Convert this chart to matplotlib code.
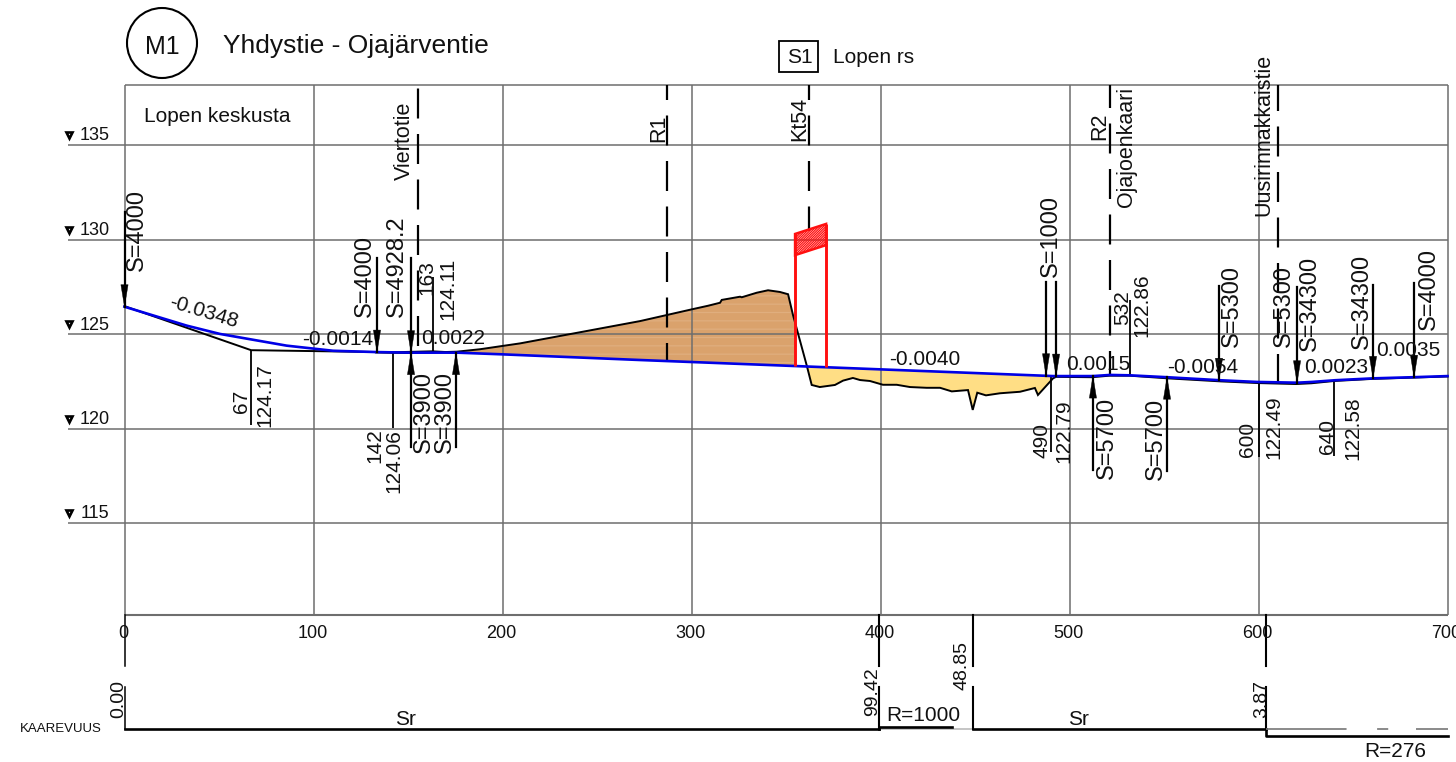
import numpy as np
import matplotlib
matplotlib.use('Agg')
import matplotlib.pyplot as plt
from matplotlib.patches import Ellipse, Polygon, Rectangle
from matplotlib.transforms import Affine2D

plt.rcParams['font.family'] = ['Liberation Sans', 'DejaVu Sans']
plt.rcParams['lines.scale_dashes'] = False
plt.rcParams['hatch.linewidth'] = 0.9

# Road profile, station (m) and elevation (m)
blue_x = [0, 32.9, 50.5, 66.4, 85.8, 110.3, 133.4, 151, 175.8, 200, 272.8, 491.3, 512.4, 521.4, 532,
          551.6, 579.6, 599.2, 620.4, 628.3, 640.5, 660.6, 681.7, 700]
blue_y = [126.47, 125.47, 125.03, 124.75, 124.41, 124.14, 124.07, 124.04, 124.04, 123.95, 123.65, 122.80,
          122.80, 122.86, 122.84, 122.74, 122.58, 122.49, 122.45, 122.49, 122.58, 122.68, 122.74, 122.80]

# Straight grade lines through the break points
tangent_x = [0, 67, 142, 163, 176]
tangent_y = [126.5, 124.17, 124.06, 124.11, 124.04]

# Existing ground
ground_x = [133, 151, 175.8, 188.1, 209.3, 272.8, 286.9, 300.1, 308.7, 315.1, 316, 325.7, 326.6, 334.5,
            340.5, 346.8, 351.1, 353.7, 354.8, 361, 363.6, 367.9, 375.9, 380.2, 385.4, 389.2, 394.4, 401.3,
            408.6, 415.6, 424.4, 431.5, 437.7, 446.3, 448.8, 451.2, 455.8, 463.2, 473.8, 481.7, 483.3,
            491.3, 492.9, 512, 521, 532, 552, 580, 600, 620, 628, 640, 660, 682, 700]
ground_y = [124.05, 124.02, 124.09, 124.22, 124.53, 125.71, 126.03, 126.33, 126.52, 126.68, 126.83, 127.00,
            126.97, 127.21, 127.34, 127.25, 127.13, 126.03, 125.63, 123.35, 122.33, 122.22, 122.33, 122.56,
            122.70, 122.59, 122.54, 122.34, 122.34, 122.22, 122.18, 122.18, 121.99, 122.06, 121.01, 121.92,
            121.78, 121.89, 121.97, 122.17, 121.80, 122.68, 122.76, 122.74, 122.82, 122.82, 122.68, 122.52,
            122.43, 122.38, 122.42, 122.54, 122.65, 122.72, 122.78]

# Bridge deck
deck_x = [354.8, 371.2]
deck_top = [130.32, 130.85]
deck_bottom = [129.2, 129.73]
deck_foot = [123.33, 123.26]

# Crossing roads: station, lower end of the dashed line
cross_x = [155.3, 287, 362.2, 521.4, 610.3]
cross_end = [124.05, 123.56, 130.5, 122.86, 122.47]

# Vertical curve arrows: station, tail elevation, tip elevation
down_x = [0, 133.6, 151.6, 487.6, 492.9, 579.1, 620.4, 660.6, 682.3]
down_tail = [131.48, 129.05, 129.05, 127.78, 127.78, 127.57, 127.51, 127.62, 127.72]
down_tip = [126.47, 124.07, 124.04, 122.82, 122.80, 122.58, 122.45, 122.68, 122.74]
up_x = [151.6, 175.4, 512.4, 551.6]
up_tail = [119.05, 119.05, 117.83, 117.78]
up_tip = [124.04, 124.04, 122.80, 122.74]

# Break points and how far their leader runs
point_x = [67, 142, 163, 490, 532, 600, 640]
point_y = [124.17, 124.06, 124.11, 122.79, 122.86, 122.49, 122.58]
point_end = [120.21, 120.05, 128.04, 118.78, 126.83, 118.52, 118.57]

x_ticks = [0, 100, 200, 300, 400, 500, 600, 700]
y_ticks = [135, 130, 125, 120, 115]

# Curvature band
curve_breaks = [0, 399.42, 448.85, 603.87]
curve_labels = ['0.00', '99.42', '48.85', '3.87']

WIDTH, HEIGHT = 1456, 762
PX_X, PX_Y = 1.89, 18.9  # pixels per metre
X0, Y135 = 124.5, 145.5
GRID = '#6e6e6e'

fig = plt.figure(figsize=(WIDTH / 100, HEIGHT / 100), dpi=100)
ax = fig.add_axes([0, 0, 1, 1])
ax.set_xlim(-X0 / PX_X, (WIDTH - X0) / PX_X)
ax.set_ylim(135 - (HEIGHT - Y135) / PX_Y, 135 + Y135 / PX_Y)
ax.axis('off')

# annotations are placed in picture pixels, y down
px = Affine2D().scale(1, -1).translate(0, HEIGHT)


def label(x, y, s, size=15, rot=90, **kw):
    kw.setdefault('ha', 'center')
    # matplotlib centres on the text box with its descent, nudge to the ink
    if rot == 90:
        x += 2
    elif rot == 0:
        y += 1.5
    ax.text(x, y, s, fontsize=size, rotation=rot, va='center', transform=px, color='#111111', zorder=8, **kw)


top, bottom = 138.2, 110.16

# cut and fill areas
gx = np.array(ground_x)
gy = np.array(ground_y)
by = np.interp(gx, blue_x, blue_y)
ax.fill_between(gx, gy, by, where=(gx >= 175.8) & (gx <= 354.8), facecolor='#DAA26C', edgecolor='#E0AE7E',
                hatch='--', linewidth=0, zorder=1)
ax.fill_between(gx, gy, by, where=(gx >= 361) & (gx <= 491.3), facecolor='#FFDE85', linewidth=0, zorder=1)

# grid
ax.vlines(x_ticks, bottom, top, color=GRID, lw=1.1, zorder=2)
ax.hlines(y_ticks, -30, 700, color=GRID, lw=1.1, zorder=2)
ax.hlines([top], 0, 700, color=GRID, lw=1.1, zorder=2)
ax.hlines([bottom], 0, 700, color=GRID, lw=1.5, zorder=2)

for t in y_ticks:
    ax.plot(-29.5, t + 0.55, marker='v', ms=5, mfc='white', mec='black', mew=1.9, zorder=5)
    label(94.5, Y135 + (135 - t) * PX_Y - 11, str(t), size=13, rot=0)
for t in x_ticks:
    label(X0 + t * PX_X - 1, 632, str(t), size=13, rot=0)

# crossing roads, dashes measured from the top of the frame
on, off = 30 * 0.72, 15.5 * 0.72
for x, end, skip in zip(cross_x, cross_end, [42, 15, 15, 7, 4]):
    ax.plot([x, x], [top, end], color='black', lw=1.6, ls=(skip * 0.72, (on, off)), zorder=4)

# profile lines
ax.plot(ground_x, ground_y, color='black', lw=1.4, zorder=5, solid_joinstyle='miter')
ax.plot(tangent_x, tangent_y, color='black', lw=1.4, zorder=5)
ax.plot(blue_x, blue_y, color='#0000e6', lw=1.9, zorder=6)

# bridge
ax.add_patch(Polygon(list(zip(deck_x, deck_top)) + list(zip(deck_x[::-1], deck_bottom[::-1])), closed=True,
                     fill=False, edgecolor='#ff1010', hatch='/' * 14, lw=1.8, zorder=5))
ax.vlines(deck_x, deck_foot, deck_top, color='#ff1010', lw=2.1, zorder=6)

# arrows
head_len, head_w = 22 / PX_Y, 3.6 / PX_X
for x, tail, tip in zip(down_x + up_x, down_tail + up_tail, down_tip + up_tip):
    sign = 1 if tail > tip else -1
    ax.plot([x, x], [tail, tip], color='black', lw=1.6, zorder=7)
    ax.add_patch(Polygon([(x, tip), (x - head_w, tip + sign * head_len), (x + head_w, tip + sign * head_len)],
                         closed=True, facecolor='black', edgecolor='black', lw=0.3, zorder=7))

# leaders at the break points
ax.vlines(point_x, point_y, point_end, color='black', lw=1.3, zorder=5)

# arrow labels
for x, y, s in [(135, 230, 'S=4000'), (363, 276, 'S=4000'), (395, 266, 'S=4928.2'),
                (422, 412, 'S=3900'), (443, 412, 'S=3900'), (1049, 236, 'S=1000'),
                (1105, 438, 'S=5700'), (1154, 439, 'S=5700'), (1230, 306, 'S=5300'),
                (1282, 306, 'S=5300'), (1308, 303, 'S=34300'), (1360, 301, 'S=34300'), (1427, 289, 'S=4000')]:
    label(x, y, s, size=17)

# break point labels
for x, y, s in [(239, 401, '67'), (263, 395, '124.17'), (373, 446, '142'), (392, 461, '124.06'),
                (425, 278, '163'), (446, 289, '124.11'), (1040, 440, '490'), (1062, 431, '122.79'),
                (1121, 308, '532'), (1140, 305, '122.86'), (1245, 439, '600'), (1272, 427, '122.49'),
                (1325, 437, '640'), (1351, 428, '122.58')]:
    label(x, y, s)

# grades
label(204, 312, '-0.0348', rot=-17)
for x, y, s in [(338, 338, '-0.0014'), (453, 337, '0.0022'), (925, 358, '-0.0040'), (1098, 363, '0.0015'),
                (1203, 366, '-0.0054'), (1336, 366, '0.0023'), (1408, 349, '0.0035')]:
    label(x, y, s, rot=0)

# crossing names
for x, y, s in [(402, 141, 'Viertotie'), (657, 128, 'R1'), (798, 119, 'Kt54'), (1098, 126, 'R2'),
                (1124, 147, 'Ojajoenkaari'), (1262, 135, 'Uusirinnakkaistie')]:
    label(x, y, s, size=15.5)

label(217, 115, 'Lopen keskusta', rot=0)

# header
ax.add_patch(Ellipse(((162 - X0) / PX_X, 135 - (43 - Y135) / PX_Y), 70 / PX_X, 70 / PX_Y, fill=False,
                     edgecolor='black', lw=1.5, clip_on=False))
label(162, 45, 'M1', size=18, rot=0)
label(223, 45, 'Yhdystie - Ojajärventie', size=19, rot=0, ha='left')
ax.add_patch(Rectangle((779, 41), 39, 31, fill=False, edgecolor='black', lw=1.3, transform=px))
label(800, 56, 'S1', rot=0)
label(833, 56, 'Lopen rs', rot=0, ha='left')

# curvature band
base, raised, low = 104.13, 104.23, 103.76
tick_a, tick_b, tick_c = 110.16, 107.45, 106.33
for x, w in zip(curve_breaks, [1.1, 1.5, 1.5, 1.5]):
    ax.plot([x, x], [tick_a, tick_b], color='black', lw=w)
    ax.plot([x, x], [tick_c, base], color='black', lw=w)
ax.plot([0, 399.42], [base, base], color='black', lw=1.9)
ax.plot([399.42, 399.42, 438], [base, raised, raised], color='black', lw=1.9)
ax.plot([399.42, 448.85], [base, base], color='#bbbbbb', lw=1.2, zorder=1)
ax.plot([448.85, 603.87], [base, base], color='black', lw=1.9)
ax.plot([603.87, 603.87, 700], [base, low, low], color='black', lw=1.9)
ax.plot([603.87, 700], [base, base], color='#777777', lw=1.2, ls=(0, (58, 22, 8, 20)))

for x, y, s in [(117, 699, curve_labels[0]), (871, 692, curve_labels[1]), (960, 665, curve_labels[2]),
                (1260, 699, curve_labels[3])]:
    label(x, y, s, size=14)
label(405, 718, 'Sr', rot=0)
label(1078, 718, 'Sr', rot=0)
label(923, 714, 'R=1000', rot=0)
label(1395, 750, 'R=276', rot=0)
label(20, 727, 'KAAREVUUS', size=9.5, rot=0, ha='left')

fig.savefig('out.png', dpi=100)
